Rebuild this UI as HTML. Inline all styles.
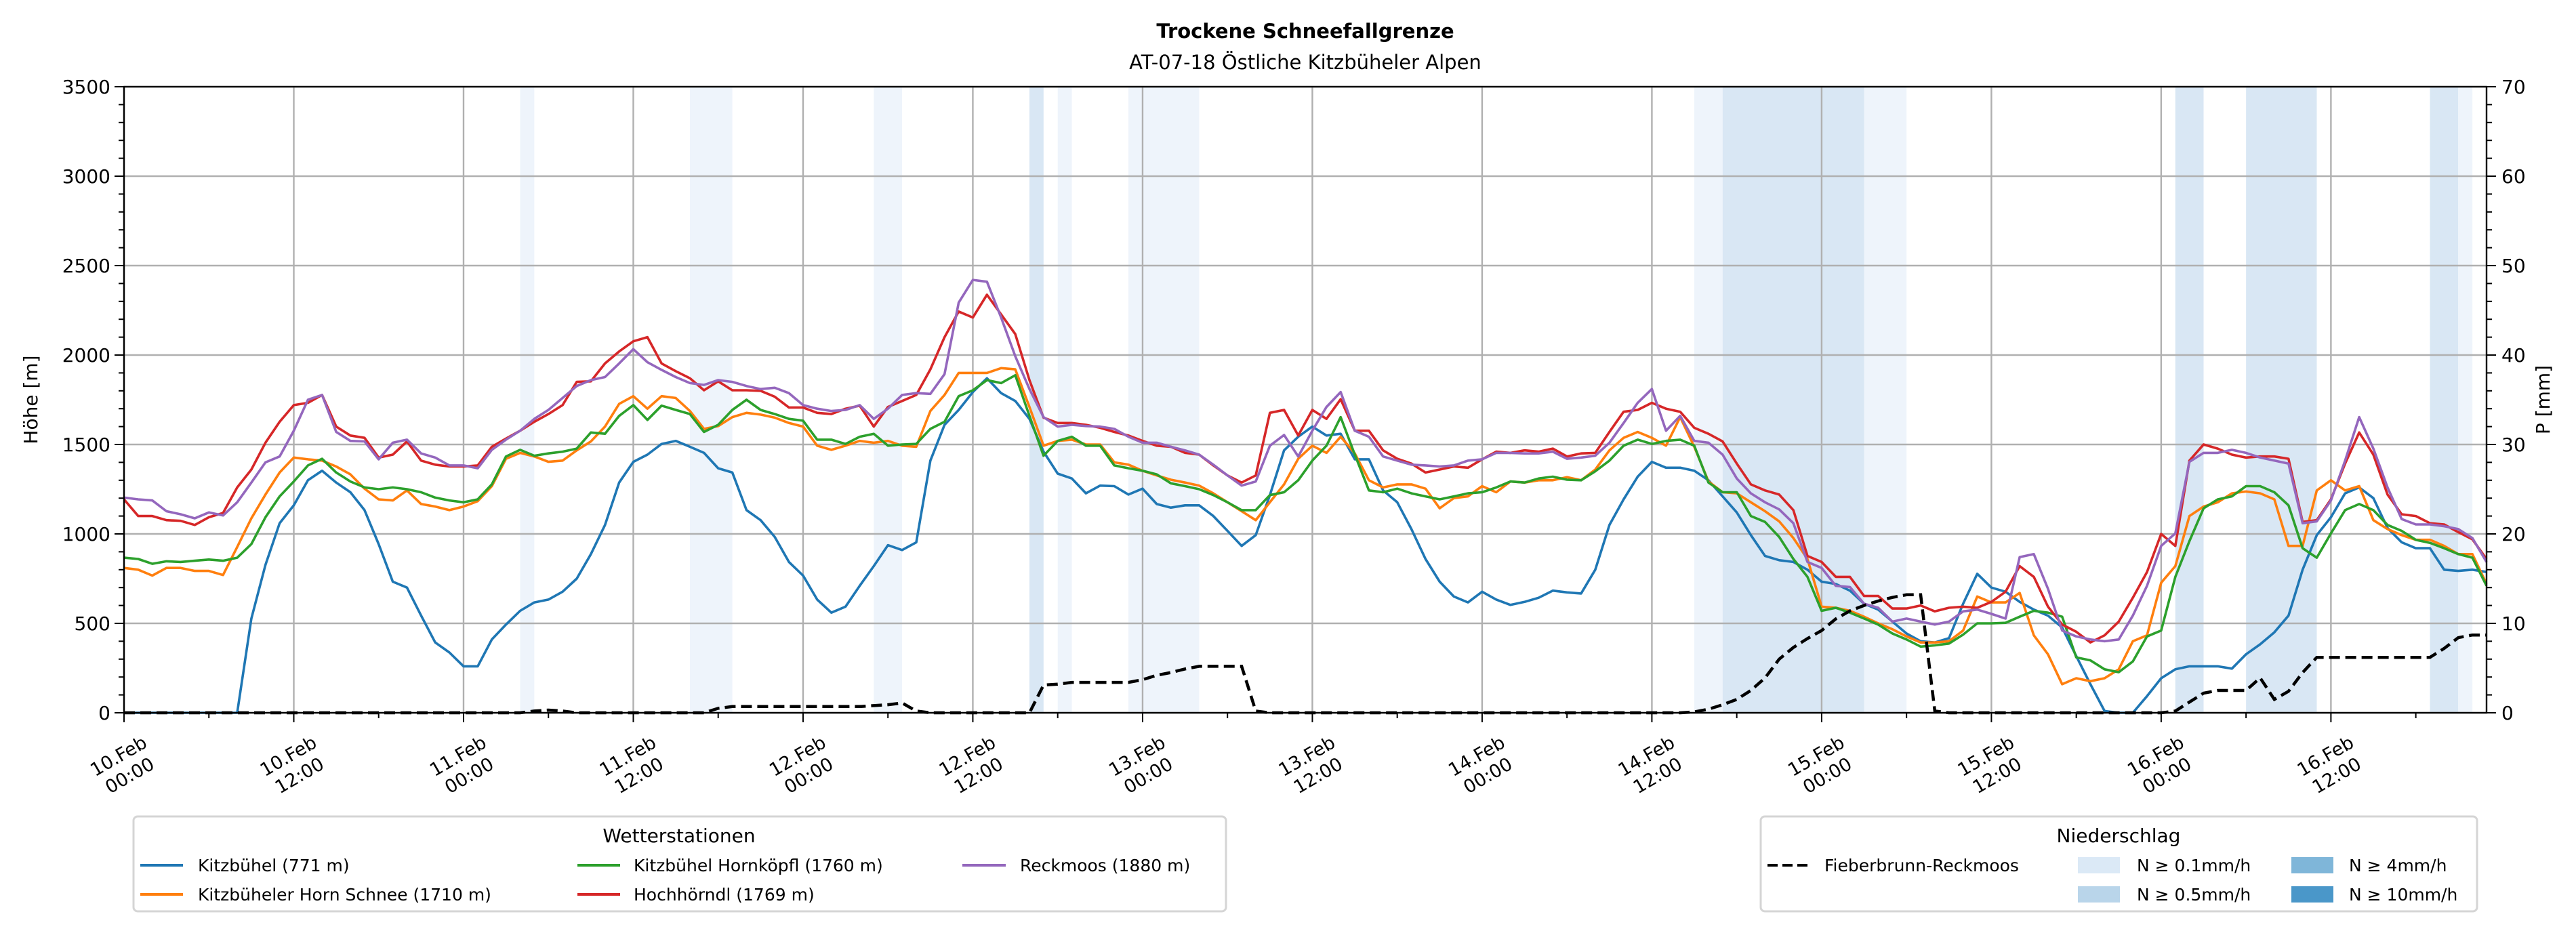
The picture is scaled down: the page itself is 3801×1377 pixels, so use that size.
<!DOCTYPE html>
<html><head><meta charset="utf-8">
<style>
html,body{margin:0;padding:0;background:#fff;}
svg{display:block;font-family:"DejaVu Sans","Liberation Sans",sans-serif;}
</style></head>
<body>
<svg id="chart" width="3801" height="1377" viewBox="0 0 3801 1377" xmlns="http://www.w3.org/2000/svg">
<rect width="3801" height="1377" fill="#fff"/>
<text x="1926" y="56" text-anchor="middle" font-size="29" font-weight="bold">Trockene Schneefallgrenze</text>
<text x="1926" y="102" text-anchor="middle" font-size="29">AT-07-18 Östliche Kitzbüheler Alpen</text>
<g id="bands"></g><g id="grid"></g><g id="series"></g><g id="axes"></g>
<text transform="translate(55,590) rotate(-90)" text-anchor="middle" font-size="28">Höhe [m]</text>
<text transform="translate(3762,590) rotate(-90)" text-anchor="middle" font-size="28">P [mm]</text>
<g>
<rect x="197" y="1205" width="1612" height="140" rx="6" fill="#fff" stroke="#d5d5d5" stroke-width="3"/>
<text x="1002" y="1243" text-anchor="middle" font-size="28">Wetterstationen</text>
<line x1="207" y1="1277" x2="270" y2="1277" stroke="#1f77b4" stroke-width="4"/><text x="292" y="1286" font-size="25">Kitzbühel (771 m)</text>
<line x1="207" y1="1320" x2="270" y2="1320" stroke="#ff7f0e" stroke-width="4"/><text x="292" y="1329" font-size="25">Kitzbüheler Horn Schnee (1710 m)</text>
<line x1="852" y1="1277" x2="915" y2="1277" stroke="#2ca02c" stroke-width="4"/><text x="935" y="1286" font-size="25">Kitzbühel Hornköpfl (1760 m)</text>
<line x1="852" y1="1320" x2="915" y2="1320" stroke="#d62728" stroke-width="4"/><text x="935" y="1329" font-size="25">Hochhörndl (1769 m)</text>
<line x1="1420" y1="1277" x2="1484" y2="1277" stroke="#9467bd" stroke-width="4"/><text x="1505" y="1286" font-size="25">Reckmoos (1880 m)</text>
</g>
<g>
<rect x="2598" y="1205" width="1057" height="140" rx="6" fill="#fff" stroke="#d5d5d5" stroke-width="3"/>
<text x="3126" y="1243" text-anchor="middle" font-size="28">Niederschlag</text>
<line x1="2608" y1="1277" x2="2670" y2="1277" stroke="#000" stroke-width="4" stroke-dasharray="15,7"/><text x="2692" y="1286" font-size="25">Fieberbrunn-Reckmoos</text>
<rect x="3066" y="1265" width="62" height="24" fill="#dbe9f6"/><text x="3153" y="1286" font-size="25">N ≥ 0.1mm/h</text>
<rect x="3066" y="1308" width="62" height="24" fill="#b9d5ea"/><text x="3153" y="1329" font-size="25">N ≥ 0.5mm/h</text>
<rect x="3381" y="1265" width="62" height="24" fill="#7fb6d9"/><text x="3466" y="1286" font-size="25">N ≥ 4mm/h</text>
<rect x="3381" y="1308" width="62" height="24" fill="#4a97c9"/><text x="3466" y="1329" font-size="25">N ≥ 10mm/h</text>
</g>
</svg>
<script>
const kitzbuehel=[0,0,0,0,0,0,0,0,0,527,827,1060,
1160,1300,1353,1287,1233,1133,943,733,700,543,393,337,
260,260,410,493,570,617,633,677,750,887,1050,1287,
1403,1443,1503,1520,1487,1453,1367,1343,1133,1077,983,843,
767,633,560,593,710,820,937,910,953,1410,1610,1693,
1793,1870,1787,1743,1643,1460,1337,1310,1227,1270,1267,1220,
1253,1167,1147,1160,1160,1100,1017,933,993,1217,1467,1543,
1600,1550,1560,1417,1417,1243,1177,1027,860,733,650,617,
677,633,603,620,643,683,673,667,800,1050,1193,1320,
1403,1370,1370,1353,1300,1210,1120,993,877,853,843,800,
733,720,683,610,577,510,443,400,393,417,610,777,
700,677,620,577,543,477,317,160,10,0,0,93,
193,243,260,260,260,247,327,383,450,543,800,993,
1093,1227,1260,1200,1033,953,920,920,800,793,800,787];
const hornSchnee=[810,800,767,810,810,793,793,770,927,1087,1220,1343,
1427,1417,1410,1377,1333,1253,1193,1187,1243,1167,1153,1133,
1153,1183,1267,1420,1453,1433,1403,1410,1467,1517,1600,1727,
1770,1700,1770,1760,1687,1587,1603,1653,1677,1667,1650,1620,
1600,1493,1470,1493,1520,1510,1520,1493,1487,1687,1777,1900,
1900,1900,1927,1920,1710,1493,1520,1527,1500,1500,1400,1387,
1353,1327,1303,1287,1270,1227,1177,1127,1077,1177,1277,1420,
1493,1453,1543,1450,1300,1260,1277,1277,1253,1143,1200,1210,
1267,1233,1293,1287,1300,1300,1317,1300,1360,1467,1537,1570,
1537,1493,1653,1487,1293,1233,1227,1177,1127,1070,977,860,
593,587,570,537,500,467,427,393,393,400,460,650,
617,617,670,433,327,160,193,177,193,243,400,433,
727,820,1100,1153,1177,1227,1237,1227,1193,933,933,1243,
1300,1243,1267,1077,1027,993,967,967,933,887,887,720];
const hornkoepfl=[867,860,833,847,843,850,857,850,867,943,1093,1210,
1293,1383,1420,1343,1293,1260,1250,1260,1250,1233,1203,1187,
1177,1193,1277,1433,1470,1437,1450,1460,1477,1567,1560,1660,
1720,1637,1717,1693,1670,1570,1610,1693,1750,1693,1670,1643,
1633,1527,1527,1503,1543,1560,1493,1500,1503,1587,1627,1770,
1803,1860,1843,1887,1660,1437,1520,1543,1493,1493,1383,1367,
1353,1333,1283,1267,1250,1217,1177,1133,1133,1217,1233,1300,
1410,1493,1653,1443,1243,1233,1253,1227,1210,1193,1210,1227,
1233,1260,1293,1287,1310,1320,1303,1300,1350,1410,1493,1527,
1503,1520,1527,1493,1287,1233,1233,1100,1067,983,860,760,
570,587,560,527,493,443,410,370,377,387,437,500,
500,503,537,570,560,537,310,293,243,227,287,427,
460,760,960,1143,1193,1210,1267,1267,1233,1160,920,867,
1003,1133,1167,1133,1050,1017,967,950,920,887,867,710];
const hochhoerndl=[1193,1100,1100,1077,1073,1050,1093,1117,1260,1360,1510,1627,
1720,1733,1777,1600,1550,1537,1427,1443,1517,1410,1387,1377,
1377,1383,1487,1533,1577,1627,1670,1720,1850,1853,1953,2020,
2077,2100,1953,1910,1870,1803,1853,1803,1803,1800,1767,1707,
1707,1677,1670,1700,1717,1600,1710,1743,1777,1920,2100,2243,
2210,2337,2227,2117,1860,1650,1620,1620,1610,1593,1570,1550,
1520,1493,1487,1453,1443,1383,1327,1287,1327,1677,1693,1550,
1693,1643,1753,1577,1577,1467,1420,1393,1343,1360,1377,1370,
1417,1460,1453,1467,1460,1477,1433,1450,1453,1570,1683,1693,
1733,1700,1683,1593,1560,1517,1393,1277,1243,1220,1133,877,
843,760,760,653,653,583,583,600,567,587,593,587,
620,677,820,760,593,493,453,393,433,510,643,787,
1000,933,1410,1500,1477,1443,1427,1433,1433,1420,1067,1077,
1193,1393,1567,1443,1220,1110,1100,1060,1053,1010,970,860];
const reckmoos=[1203,1193,1187,1127,1110,1087,1120,1103,1177,1287,1400,1433,
1577,1750,1777,1570,1520,1517,1417,1510,1527,1450,1427,1383,
1383,1367,1470,1527,1577,1643,1693,1760,1827,1860,1877,1953,
2033,1960,1917,1877,1843,1833,1860,1850,1827,1810,1817,1787,
1720,1700,1687,1693,1720,1643,1700,1777,1787,1783,1893,2293,
2420,2410,2210,1993,1810,1653,1600,1610,1603,1600,1587,1543,
1510,1510,1487,1467,1443,1387,1327,1270,1293,1493,1553,1433,
1577,1710,1793,1577,1543,1433,1410,1387,1383,1377,1383,1410,
1417,1453,1453,1450,1450,1460,1420,1427,1437,1510,1620,1733,
1810,1577,1660,1520,1510,1443,1310,1227,1177,1137,1060,843,
810,710,703,610,587,510,527,510,493,510,567,577,
553,527,870,887,693,460,427,410,400,410,543,710,
933,1003,1403,1453,1453,1470,1453,1427,1410,1393,1060,1070,
1187,1410,1653,1477,1260,1083,1053,1053,1043,1027,977,843];
const precipSum=[0,0,0,0,0,0,0,0,0,0,0,0,
0,0,0,0,0,0,0,0,0,0,0,0,
0,0,0,0,0,0.2,0.3,0.2,0,0,0,0,
0,0,0,0,0,0,0.5,0.7,0.7,0.7,0.7,0.7,
0.7,0.7,0.7,0.7,0.7,0.8,0.9,1.1,0.2,0,0,0,
0,0,0,0,0,3.1,3.2,3.4,3.4,3.4,3.4,3.4,
3.7,4.2,4.5,4.9,5.2,5.2,5.2,5.2,0.2,0,0,0,
0,0,0,0,0,0,0,0,0,0,0,0,
0,0,0,0,0,0,0,0,0,0,0,0,
0,0,0,0.1,0.4,0.9,1.5,2.5,3.9,6.0,7.3,8.3,
9.2,10.5,11.4,12.0,12.5,12.9,13.2,13.2,0.2,0,0,0,
0,0,0,0,0,0,0,0,0,0,0,0,
0,0.2,1.2,2.2,2.5,2.5,2.5,3.9,1.5,2.4,4.5,6.2,
6.2,6.2,6.2,6.2,6.2,6.2,6.2,6.2,7.2,8.4,8.7,8.7];
const bandStart=[28,40,53,64,66,71,111,113,123,145,150,163,165];
const bandEnd=[29,43,55,65,67,76,113,123,126,147,155,165,166];
const bandLevel=[1,1,1,2,1,1,1,2,1,2,2,2,1];
const yTicks=[0,500,1000,1500,2000,2500,3000,3500];
const y2Ticks=[0,10,20,30,40,50,60,70];
const xTickLabels=[["10.Feb","00:00"],["10.Feb","12:00"],["11.Feb","00:00"],["11.Feb","12:00"],["12.Feb","00:00"],["12.Feb","12:00"],["13.Feb","00:00"],["13.Feb","12:00"],["14.Feb","00:00"],["14.Feb","12:00"],["15.Feb","00:00"],["15.Feb","12:00"],["16.Feb","00:00"],["16.Feb","12:00"]];

const NS="http://www.w3.org/2000/svg";
const L=183,R=3669,T=128,B=1052;
const xs=h=>L+h*(R-L)/167;
const ys=v=>B-v/3500*(B-T);
const yp=v=>B-v/70*(B-T);
function mk(tag,attrs,parent){const e=document.createElementNS(NS,tag);for(const k in attrs)e.setAttribute(k,attrs[k]);parent.appendChild(e);return e;}
const gB=document.getElementById('bands'),gG=document.getElementById('grid'),gS=document.getElementById('series'),gA=document.getElementById('axes');
const bandColors={1:'#eef4fb',2:'#d9e7f4'};
for(let i=0;i<bandStart.length;i++){
  const r=mk('rect',{x:xs(bandStart[i]),y:T,width:xs(bandEnd[i])-xs(bandStart[i]),height:B-T,fill:bandColors[bandLevel[i]]},gB);
  
  
}
yTicks.forEach(v=>{
  const l=mk('line',{x1:L,x2:R,y1:ys(v),y2:ys(v),stroke:'#b0b0b0','stroke-width':2.4},gG);
  
  
});
xTickLabels.forEach((lab,i)=>{
  const l=mk('line',{x1:xs(i*12),x2:xs(i*12),y1:T,y2:B,stroke:'#b0b0b0','stroke-width':2.4},gG);
  
  
});
const seriesDefs=[[kitzbuehel,'#1f77b4','line-kitzbuehel'],[hornSchnee,'#ff7f0e','line-horn-schnee'],[hornkoepfl,'#2ca02c','line-hornkoepfl'],[hochhoerndl,'#d62728','line-hochhoerndl'],[reckmoos,'#9467bd','line-reckmoos']];
seriesDefs.forEach(([d,c,n])=>{
  const p=mk('polyline',{points:d.map((v,i)=>xs(i).toFixed(1)+','+ys(v).toFixed(1)).join(' '),fill:'none',stroke:c,'stroke-width':3.6,'stroke-linejoin':'round'},gS);
  
  
});
const pl=mk('polyline',{points:precipSum.map((v,i)=>xs(i).toFixed(1)+','+yp(v).toFixed(1)).join(' '),fill:'none',stroke:'#000','stroke-width':4.5,'stroke-dasharray':'16,8'},gS);


const fr=mk('rect',{x:L,y:T,width:R-L,height:B-T,fill:'none',stroke:'#000','stroke-width':2.4},gA);


for(let v=0;v<=3500;v+=100){const len=(v%500===0)?14:8;mk('line',{x1:L-len,x2:L,y1:ys(v),y2:ys(v),stroke:'#000','stroke-width':2},gA);}
for(let v=0;v<=70;v+=2){const len=(v%10===0)?14:8;mk('line',{x1:R,x2:R+len,y1:yp(v),y2:yp(v),stroke:'#000','stroke-width':2},gA);}
for(let h=0;h<=167;h+=6){const len=(h%12===0)?14:8;mk('line',{x1:xs(h),x2:xs(h),y1:B,y2:B+len,stroke:'#000','stroke-width':2},gA);}
yTicks.forEach(v=>{
  const t=mk('text',{x:L-20,y:ys(v)+10,'text-anchor':'end','font-size':28},gA);t.textContent=v;
  
  
});
y2Ticks.forEach(v=>{
  const t=mk('text',{x:R+22,y:yp(v)+10,'font-size':28},gA);t.textContent=v;
  
  
});
xTickLabels.forEach((lab,i)=>{
  const g=mk('g',{transform:'translate('+xs(i*12)+',1130) rotate(-30)'},gA);
  
  
  const a=mk('text',{x:0,y:-7,'text-anchor':'middle','font-size':27},g);a.textContent=lab[0];
  const b=mk('text',{x:0,y:26,'text-anchor':'middle','font-size':27},g);b.textContent=lab[1];
});
</script>
</body></html>
